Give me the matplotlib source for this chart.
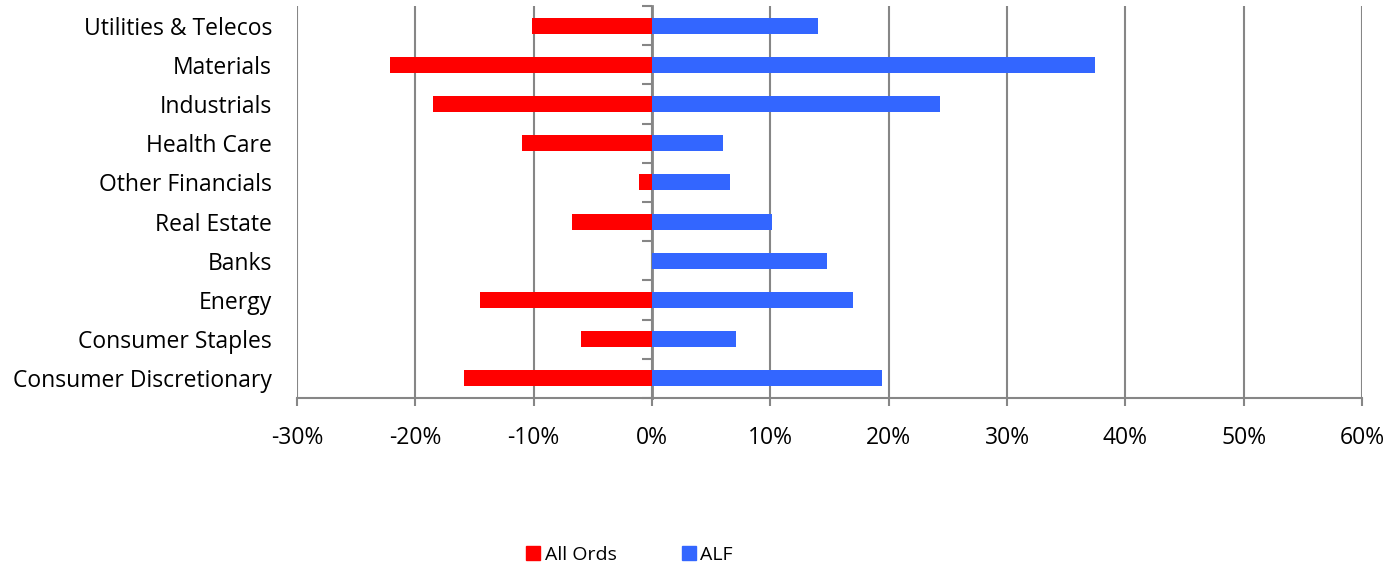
import matplotlib
matplotlib.use("Agg")
import matplotlib.pyplot as plt
from matplotlib.ticker import FuncFormatter, FixedLocator
from matplotlib.lines import Line2D

plt.rcParams['font.family'] = ['Open Sans', 'DejaVu Sans']

categories = ["Consumer Discretionary", "Consumer Staples", "Energy", "Banks",
              "Real Estate", "Other Financials", "Health Care", "Industrials",
              "Materials", "Utilities & Telecos"]
all_ords = [-15.9, -6.0, -14.5, 0.0, -6.8, -1.1, -11.0, -18.5, -22.1, -10.1]
alf = [19.4, 7.1, 17.0, 14.8, 10.1, 6.6, 6.0, 24.3, 37.4, 14.0]
xticks = [-30, -20, -10, 0, 10, 20, 30, 40, 50, 60]

RED = "#FF0000"
BLUE = "#3366FF"
GRAY = "#868686"

fig = plt.figure(figsize=(13.88, 5.68), dpi=100)
ax = fig.add_axes([297/1388, 1 - 398/568, (1362-297)/1388, (398-6)/568])

pos = list(range(len(categories)))
ax.barh(pos, all_ords, height=0.41, color=RED, zorder=3)
ax.barh(pos, alf, height=0.41, color=BLUE, zorder=3)

ax.set_xlim(-30, 60)
ax.set_ylim(-0.5, len(categories) - 0.5)
ax.set_xticks(xticks)
ax.xaxis.set_major_formatter(FuncFormatter(lambda v, p: f"{int(round(v))}%"))
ax.set_yticks(pos)
ax.set_yticklabels(categories)
ax.tick_params(axis='y', length=0, pad=18, labelsize=16.5)
ax.tick_params(axis='x', length=6, width=1.5, color=GRAY, pad=14, labelsize=16.5)

for s in ['top', 'right', 'left']:
    ax.spines[s].set_visible(False)
ax.spines['bottom'].set_color(GRAY)
ax.spines['bottom'].set_linewidth(1.5)

ax.grid(axis='x', color=GRAY, linewidth=1.5, zorder=0)
ax.set_axisbelow(True)

# category axis crossing at 0%
sec = ax.secondary_yaxis(30/90)
sec.spines['left'].set_color(GRAY)
sec.spines['left'].set_linewidth(2)
sec.yaxis.set_major_locator(FixedLocator([p + 0.5 for p in range(-1, len(categories))]))
sec.tick_params(axis='y', length=7, width=1.5, color=GRAY, labelleft=False)
sec.spines['left'].set_zorder(5)

handles = [Line2D([], [], marker='s', linestyle='none', markersize=10, color=RED),
           Line2D([], [], marker='s', linestyle='none', markersize=10, color=BLUE)]
fig.legend(handles, ["All Ords", "ALF"], ncol=2, loc='center',
           bbox_to_anchor=(628/1388, 1 - 555/568), frameon=False,
           fontsize=14, handletextpad=0.1, columnspacing=3.2, handlelength=1)

fig.savefig("out.png", dpi=100)
